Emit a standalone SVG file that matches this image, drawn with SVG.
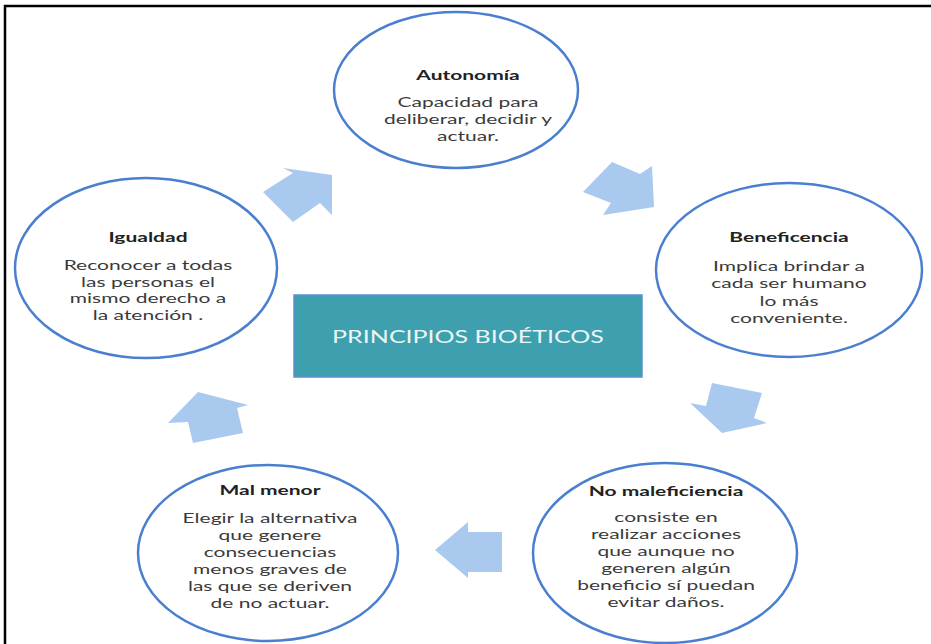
<svg xmlns="http://www.w3.org/2000/svg" width="931" height="644" viewBox="0 0 931 644">
<style>
.node ellipse{fill:#ffffff;stroke:#4a7fd0;stroke-width:2.5}
.t{font-family:Lato,"Open Sans",sans-serif;font-size:14px;font-weight:bold;fill:#222;text-anchor:middle}
.b{font-family:Lato,"Open Sans",sans-serif;font-size:14px;fill:#3a3a3a;text-anchor:middle}
.arrow{fill:#a9c9ef;stroke:none}
.ct{font-family:Lato,"Open Sans",sans-serif;font-size:18px;fill:#eaf6f6;text-anchor:middle}
</style>
<rect x="0" y="0" width="931" height="644" fill="#ffffff"/>
<path d="M5,644 V6 H931" fill="none" stroke="#000" stroke-width="2.5"/>
<g id="connectors">
<polygon class="arrow" points="263,192 293,173 283,168 332,175 332,215 320,203 293,222"/>
<polygon class="arrow" points="612,162 640,174 652,166 654,207 603,215 611,203 583,192"/>
<polygon class="arrow" points="712,383 762,393 754,418 767,423 722,433 690,403 706,406"/>
<polygon class="arrow" points="502,532 468,532 468,522 435,550 468,578 468,572 502,572"/>
<polygon class="arrow" points="198,392 248,405 237,408 243,433 193,443 188,422 168,423"/>
</g>
<g id="center" class="node">
<rect x="294" y="295" width="348" height="82" fill="#3e9fae" stroke="#5a90d6" stroke-width="1.5"/>
<text class="ct" transform="translate(468 343) scale(1.39 1)">PRINCIPIOS BIOÉTICOS</text>
</g>
<g id="autonomia" class="node">
<ellipse cx="456" cy="90" rx="122" ry="78"/>
<g transform="translate(468 0) scale(1.5 1)">
<text class="t" x="0" y="80">Autonomía</text>
<text class="b" x="0" y="107">Capacidad para</text>
<text class="b" x="0" y="124">deliberar, decidir y</text>
<text class="b" x="0" y="141">actuar.</text>
</g>
</g>
<g id="beneficencia" class="node">
<ellipse cx="789" cy="270" rx="133" ry="87"/>
<g transform="translate(789 0) scale(1.5 1)">
<text class="t" x="0" y="242">Beneficencia</text>
<text class="b" x="0" y="271">Implica brindar a</text>
<text class="b" x="0" y="288">cada ser humano</text>
<text class="b" x="0" y="306">lo más</text>
<text class="b" x="0" y="323">conveniente.</text>
</g>
</g>
<g id="igualdad" class="node">
<ellipse cx="146" cy="268" rx="131" ry="90"/>
<g transform="translate(148 0) scale(1.5 1)">
<text class="t" x="0" y="242">Igualdad</text>
<text class="b" x="0" y="270">Reconocer  a todas</text>
<text class="b" x="0" y="287">las personas el</text>
<text class="b" x="0" y="303">mismo derecho a</text>
<text class="b" x="0" y="320">la atención .</text>
</g>
</g>
<g id="malmenor" class="node">
<ellipse cx="268" cy="553" rx="130" ry="88"/>
<g transform="translate(270 0) scale(1.5 1)">
<text class="t" x="0" y="495">Mal menor</text>
<text class="b" x="0" y="523">Elegir la alternativa</text>
<text class="b" x="0" y="540">que genere</text>
<text class="b" x="0" y="557">consecuencias</text>
<text class="b" x="0" y="574">menos graves de</text>
<text class="b" x="0" y="591">las que se deriven</text>
<text class="b" x="0" y="608">de no actuar.</text>
</g>
</g>
<g id="nomaleficiencia" class="node">
<ellipse cx="665" cy="553" rx="132" ry="90"/>
<g transform="translate(666 0) scale(1.5 1)">
<text class="t" x="0" y="496">No maleficiencia</text>
<text class="b" x="0" y="522">consiste  en</text>
<text class="b" x="0" y="539">realizar acciones</text>
<text class="b" x="0" y="556">que aunque no</text>
<text class="b" x="0" y="573">generen algún</text>
<text class="b" x="0" y="590">beneficio sí puedan</text>
<text class="b" x="0" y="607">evitar daños.</text>
</g>
</g>
</svg>
